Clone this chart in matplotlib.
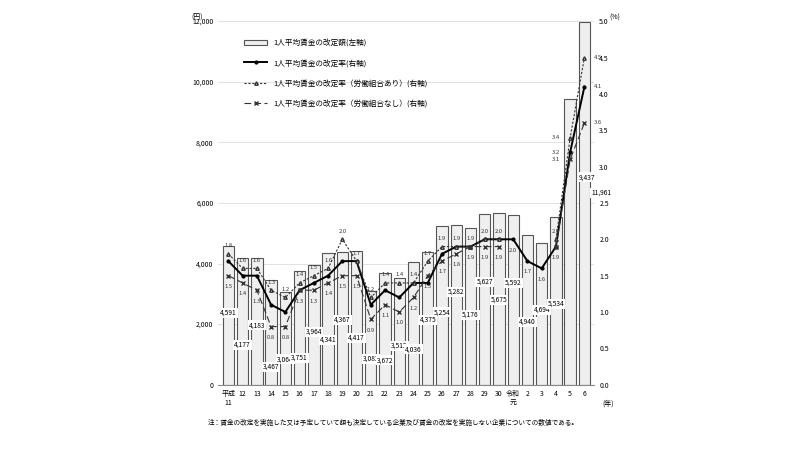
import matplotlib
matplotlib.use("Agg")
import matplotlib.pyplot as plt
import numpy as np

plt.rcParams["font.family"] = ["Noto Sans CJK JP", "DejaVu Sans"]

years = ["平成\n11","12","13","14","15","16","17","18","19","20","21","22","23","24","25",
         "26","27","28","29","30","令和\n元","2","3","4","5","6"]
amount = [4591,4177,4183,3467,3064,3751,3964,4341,4367,4417,3083,3672,3513,4036,4375,
          5254,5282,5176,5627,5675,5592,4940,4694,5534,9437,11961]
rate_all = [1.7,1.5,1.5,1.1,1.0,1.3,1.4,1.5,1.7,1.7,1.1,1.3,1.2,1.4,1.4,
            1.8,1.9,1.9,2.0,2.0,2.0,1.7,1.6,1.9,3.2,4.1]
rate_union = [1.8,1.6,1.6,1.3,1.2,1.4,1.5,1.6,2.0,1.7,1.2,1.4,1.4,1.4,1.7,
              1.9,1.9,1.9,2.0,2.0,np.nan,np.nan,np.nan,2.0,3.4,4.5]
rate_nonunion = [1.5,1.4,1.3,0.8,0.8,1.3,1.3,1.4,1.5,1.5,0.9,1.1,1.0,1.2,1.5,
                 1.7,1.8,1.9,1.9,1.9,np.nan,np.nan,np.nan,1.9,3.1,3.6]

fig = plt.figure(figsize=(8, 4.5), dpi=100)
ax = fig.add_axes([0.273, 0.145, 0.47, 0.808])
x = np.arange(len(years))
ax.bar(x, amount, width=0.8, color="#efefef", edgecolor="#555555", linewidth=0.8,
       label="1人平均賃金の改定額(左軸)", zorder=2)
ax.set_ylim(0, 12000)
ax.set_yticks(np.arange(0, 12001, 2000))
ax.set_yticklabels([f"{v:,}" for v in range(0, 12001, 2000)], fontsize=5)
ax.set_xlim(-0.7, len(years) - 0.3)
ax.set_xticks(x)
ax.set_xticklabels(years, fontsize=5)
ax.tick_params(length=0)
ax.grid(axis="y", color="#dddddd", lw=0.6, zorder=0)
for s in ["top", "right", "left"]:
    ax.spines[s].set_visible(False)
ax.spines["bottom"].set_color("#888888")
ax.text(-0.04, 1.0, "(円)", transform=ax.transAxes, fontsize=5, ha="right", va="bottom")
ax.text(1.02, -0.04, "(年)", transform=ax.transAxes, fontsize=5, ha="left", va="top")

ax2 = ax.twinx()
ax2.set_ylim(0, 5.0)
ax2.set_yticks(np.arange(0, 5.01, 0.5))
ax2.set_yticklabels([f"{v:.1f}" for v in np.arange(0, 5.01, 0.5)], fontsize=5)
ax2.tick_params(length=0)
for s in ["top", "right", "left", "bottom"]:
    ax2.spines[s].set_visible(False)
ax2.text(1.04, 1.0, "(%)", transform=ax2.transAxes, fontsize=5, ha="left", va="bottom")

l1, = ax2.plot(x, rate_all, color="black", lw=1.4, marker="o", ms=2, label="1人平均賃金の改定率(右軸)")
l2, = ax2.plot(x, rate_union, color="#333333", lw=0.8, ls=(0, (2, 1.5)), marker="^", ms=2.5,
               mfc="white", label="1人平均賃金の改定率（労働組合あり）(右軸)")
l3, = ax2.plot(x, rate_nonunion, color="#333333", lw=0.8, ls=(0, (6, 3)), marker="x", ms=2.5,
               label="1人平均賃金の改定率（労働組合なし）(右軸)")

box = dict(boxstyle="square,pad=0.15", fc="white", ec="none")
for i, v in enumerate(amount):
    if i >= 24:
        ax.annotate(f"{v:,}", (i, v), xytext=(12, -58 if i == 24 else -124), textcoords="offset points",
                    fontsize=4.8, ha="center", bbox=box, zorder=5)
    else:
        ax.annotate(f"{v:,}", (i, v), xytext=(0, -50 - (i % 2) * 14), textcoords="offset points",
                    fontsize=4.8, ha="center", bbox=box, zorder=5)
for arr, dy in [(rate_union, 4), (rate_nonunion, -6)]:
    for i, v in enumerate(arr):
        if np.isnan(v):
            continue
        if i >= 24:
            dx = 10 if i == 25 else -10
            ax2.annotate(f"{v:.1f}", (i, v), xytext=(dx, 0), textcoords="offset points",
                         fontsize=4.2, ha="center", va="center", color="#333333")
        else:
            ax2.annotate(f"{v:.1f}", (i, v), xytext=(0, dy), textcoords="offset points",
                         fontsize=4.2, ha="center", va="bottom" if dy >= 0 else "top", color="#333333")
for i, v in enumerate(rate_all):
    if i >= 24:
        ax2.annotate(f"{v:.1f}", (i, v), xytext=(-10 if i == 24 else 10, 0), textcoords="offset points",
                     fontsize=4.2, ha="center", va="center", color="#333333")
    elif np.isnan(rate_union[i]):
        ax2.annotate(f"{v:.1f}", (i, v), xytext=(0, -6), textcoords="offset points",
                     fontsize=4.2, ha="center", va="top", color="#333333")

h1, lb1 = ax.get_legend_handles_labels()
ax2.legend(h1 + [l1, l2, l3], lb1 + [l1.get_label(), l2.get_label(), l3.get_label()],
           loc="upper left", bbox_to_anchor=(0.05, 0.97), fontsize=5.5, frameon=False,
           labelspacing=1.6, handlelength=3)

fig.text(0.26, 0.055, "注：賃金の改定を実施した又は予定していて額も決定している企業及び賃金の改定を実施しない企業についての数値である。",
         fontsize=4.8)
fig.savefig("out.png", dpi=100, facecolor="white")
